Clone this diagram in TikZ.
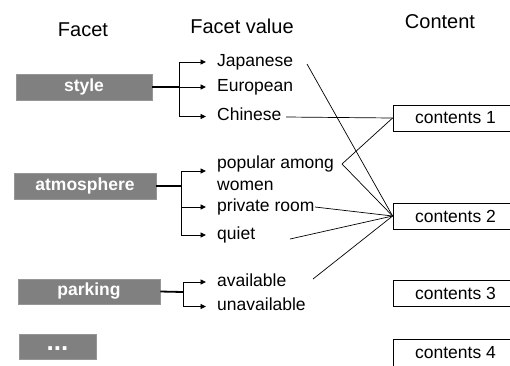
\documentclass[tikz,border=0pt]{standalone}
\usepackage{fontspec}
\setmainfont{Liberation Sans}
\usetikzlibrary{arrows.meta,calc}
\definecolor{facetgray}{RGB}{128,128,128}
\definecolor{facetedge}{RGB}{150,150,150}
\begin{document}
\begin{tikzpicture}[x=1pt,y=-1pt,
  every node/.style={font=\fontsize{17.5}{21.9}\selectfont},
  header/.style={font=\fontsize{20}{24}\selectfont, anchor=base, inner sep=0},
  facetbox/.style={fill=facetgray, draw=facetedge, line width=0.6pt, text=white,
    font=\fontsize{17.5}{21.9}\selectfont\bfseries, inner sep=0, minimum height=26pt},
  valtext/.style={anchor=west, inner xsep=11pt, inner ysep=0, text height=12.6pt, text depth=3.7pt},
  contentbox/.style={draw, line width=0.8pt, minimum width=125pt, minimum height=26pt, inner sep=0},
  feed/.style={line width=1.8pt},
  arr/.style={line width=0.9pt, -{Triangle[length=5.5pt,width=5pt]}},
  link/.style={line width=0.7pt},
]
\useasboundingbox (0,0) rectangle (510,365);
\clip (0,0) rectangle (510,365);

% headers
\node[header] (h1) at (83,36) {Facet};
\node[header] (h2) at (242,33) {Facet value};
\node[header] (h3) at (440,28.5) {Content};

% facets
\node[facetbox, minimum width=136pt] (style) at (84,87) {style};
\node[facetbox, minimum width=142pt] (atmos) at (85,186) {atmosphere};
\node[facetbox, minimum width=142pt, minimum height=25pt] (park) at (89,291.5) {parking};
\node[facetbox, minimum width=77pt, minimum height=25pt] (more) at (57.5,346.5) {};
\node[anchor=base, inner sep=0, text=white, font=\fontsize{26}{30}\selectfont\bfseries] (moretext) at (57.5,350) {...};

% facet values
\node[valtext] (jap) at (206,62) {Japanese};
\node[valtext] (eur) at (206,87) {European};
\node[valtext] (chi) at (206,116.5) {Chinese};
\node[anchor=base west, align=left, inner xsep=11pt, inner ysep=0] (pop) at (206,190) {popular among\\women};
\node[valtext] (priv) at (206,207) {private room};
\node[valtext] (quiet) at (206,235) {quiet};
\node[valtext] (avail) at (206,282) {available};
\node[valtext] (unavail) at (206,306.5) {unavailable};

% contents
\node[contentbox] (c1) at (455.5,118) {contents 1};
\node[contentbox] (c2) at (455.5,216) {contents 2};
\node[contentbox] (c3) at (455.5,293.5) {contents 3};
\node[contentbox, minimum height=28pt] (c4) at (455.5,353) {contents 4};

% brackets
\coordinate (sj) at (179,87);
\coordinate (aj) at (181,186);
\coordinate (pj) at (183,292);
\coordinate (popin) at (206,171);

\draw[feed] (style.east) -- (sj);
\draw[arr] (sj) |- (jap.west);
\draw[arr] (sj) -- (eur.west);
\draw[arr] (sj) |- (chi.west);

\draw[feed] (atmos.east) -- (aj);
\draw[arr] (aj) |- (popin);
\draw[arr] (aj) |- (priv.west);
\draw[arr] (aj) |- (quiet.west);

\draw[feed] (park.east) -- (pj);
\draw[arr] (pj) |- (avail.west);
\draw[arr] (pj) |- (unavail.west);

% links
\coordinate (japR) at (307,64);
\coordinate (chiR) at (286,117);
\coordinate (popR) at (342,164);
\coordinate (privR) at (315,207);
\coordinate (quietR) at (290,239);
\coordinate (availR) at (313,279);

\draw[link] (japR) -- (c2.west);
\draw[link] (chiR) -- (c1.west);
\draw[link] (c1.west) -- (popR) -- (c2.west);
\draw[link] (privR) -- (c2.west);
\draw[link] (quietR) -- (c2.west);
\draw[link] (availR) -- (c2.west);
\end{tikzpicture}
\end{document}
